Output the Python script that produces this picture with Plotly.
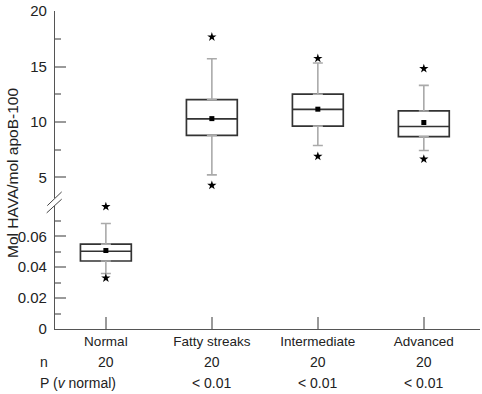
import plotly.graph_objects as go

# ---- data ----
categories = ["Normal", "Fatty streaks", "Intermediate", "Advanced"]
q1 = [0.0440, 8.79, 9.62, 8.67]
median = [0.0503, 10.27, 11.13, 9.59]
q3 = [0.0549, 12.02, 12.50, 10.99]
mean = [0.0508, 10.30, 11.15, 9.95]
whisker_low = [0.0359, 5.23, 7.87, 7.43]
whisker_high = [0.0683, 15.70, 15.31, 13.30]
outlier_low = [0.0330, 4.28, 6.90, 6.65]
outlier_high = [0.0792, 17.66, 15.73, 14.81]
n_values = ["20", "20", "20", "20"]
p_values = ["", "< 0.01", "< 0.01", "< 0.01"]
upper_ticks = [5, 10, 15, 20]
lower_ticks = [0, 0.02, 0.04, 0.06]
lower_ticktext = ["0", "0.02", "0.04", "0.06"]

FONT = "Liberation Sans"
BOX_LINE = "#333333"
WHISK = "#aaaaaa"
AXIS = "#555555"
TICK = "#9a9a9a"

fig = go.Figure()

for i, cat in enumerate(categories):
    yax = "y2" if i == 0 else "y"
    # whiskers (gray) as error bars from the box edges
    fig.add_trace(go.Scatter(
        x=[cat, cat], y=[q3[i], q1[i]], yaxis=yax, mode="markers",
        marker=dict(size=1, color="rgba(0,0,0,0)"),
        error_y=dict(type="data", symmetric=False,
                     array=[whisker_high[i] - q3[i], 0],
                     arrayminus=[0, q1[i] - whisker_low[i]],
                     color=WHISK, thickness=1.6, width=5),
        showlegend=False, hoverinfo="skip", cliponaxis=False))
    # box
    fig.add_trace(go.Box(
        x=[cat], q1=[q1[i]], median=[median[i]], q3=[q3[i]],
        lowerfence=[q1[i]], upperfence=[q3[i]], yaxis=yax,
        width=0.48, whiskerwidth=0, fillcolor="rgba(255,255,255,0)",
        line=dict(color=BOX_LINE, width=1.7), boxpoints=False,
        showlegend=False))
    # mean
    fig.add_trace(go.Scatter(
        x=[cat], y=[mean[i]], yaxis=yax, mode="markers",
        marker=dict(symbol="square", size=5, color="black"),
        showlegend=False, cliponaxis=False))
    # extreme values
    fig.add_trace(go.Scatter(
        x=[cat, cat], y=[outlier_low[i], outlier_high[i]], yaxis=yax,
        mode="markers", marker=dict(symbol="star", size=7, color="black"),
        showlegend=False, cliponaxis=False))

L, R, T, B = 55, 2, 5, 65
W, H = 482, 394
pw, ph = W - L - R, H - T - B


def px(xp):
    return (xp - L) / pw


def py(yp):
    return (H - B - yp) / ph


fig.update_layout(
    width=W, height=H, autosize=False,
    margin=dict(l=L, r=R, t=T, b=B, pad=0),
    paper_bgcolor="white", plot_bgcolor="white",
    font=dict(family=FONT, size=14, color="#222222"),
    boxmode="overlay",
    xaxis=dict(type="category", categoryorder="array", categoryarray=categories,
               range=[-0.48, 3.53], domain=[0, 1], anchor="y2",
               showline=True, linecolor=AXIS, linewidth=1.2,
               ticks="inside", ticklen=12, tickcolor=TICK, tickwidth=1.5,
               tickfont=dict(size=13.5), showgrid=False, zeroline=False),
    yaxis=dict(domain=[py(196), 1], range=[3.10, 20.005], anchor="x",
               tickmode="array", tickvals=upper_ticks,
               ticks="inside", ticklen=11, tickcolor=TICK, tickwidth=1.5,
               minor=dict(tickmode="array", tickvals=[7.5, 12.5, 17.5],
                          ticks="inside", ticklen=6, tickcolor=TICK, tickwidth=1.5),
               showline=True, linecolor=AXIS, linewidth=1.2,
               showgrid=False, zeroline=False, tickfont=dict(size=15),
               ticklabelstandoff=4, ticklabeloverflow="allow"),
    yaxis2=dict(domain=[0, py(204)], range=[0, 0.0794], anchor="x",
                tickmode="array", tickvals=lower_ticks, ticktext=lower_ticktext,
                ticks="inside", ticklen=11, tickcolor=TICK, tickwidth=1.5,
                minor=dict(tickmode="array", tickvals=[0.01, 0.03, 0.05, 0.07],
                           ticks="inside", ticklen=6, tickcolor=TICK, tickwidth=1.5),
                showline=True, linecolor=AXIS, linewidth=1.2,
                showgrid=False, zeroline=False, tickfont=dict(size=15),
                ticklabelstandoff=4, ticklabeloverflow="allow"),
)

# axis break marks
for (x0, y0, x1, y1) in [(47.3, 203.3, 61.7, 189.3), (46.7, 210.7, 61.7, 196.7)]:
    fig.add_shape(type="line", xref="paper", yref="paper",
                  x0=px(x0), y0=py(y0), x1=px(x1), y1=py(y1),
                  line=dict(color="#444444", width=1))

# y axis title
fig.add_annotation(text="Mol HAVA/mol apoB-100", xref="paper", yref="paper",
                   x=px(13), y=py(170), textangle=-90, showarrow=False,
                   font=dict(size=15.5), xanchor="center", yanchor="middle")

# table below the chart
fig.add_annotation(text="n", xref="paper", yref="paper", x=px(38), y=py(363),
                   xanchor="left", yanchor="middle", showarrow=False,
                   font=dict(size=14))
fig.add_annotation(text="P (<i>v</i> normal)", xref="paper", yref="paper",
                   x=px(38), y=py(384), xanchor="left", yanchor="middle",
                   showarrow=False, font=dict(size=14))
for cat, nv, pv in zip(categories, n_values, p_values):
    fig.add_annotation(text=nv, xref="x", yref="paper", x=cat, y=py(363),
                       xanchor="center", yanchor="middle", showarrow=False,
                       font=dict(size=14))
    if pv:
        fig.add_annotation(text=pv, xref="x", yref="paper", x=cat, y=py(384),
                           xanchor="center", yanchor="middle", showarrow=False,
                           font=dict(size=14))

fig.write_html("out.html", config={"displayModeBar": False},
               post_script="document.body.style.margin='0';document.body.style.overflow='hidden';")
